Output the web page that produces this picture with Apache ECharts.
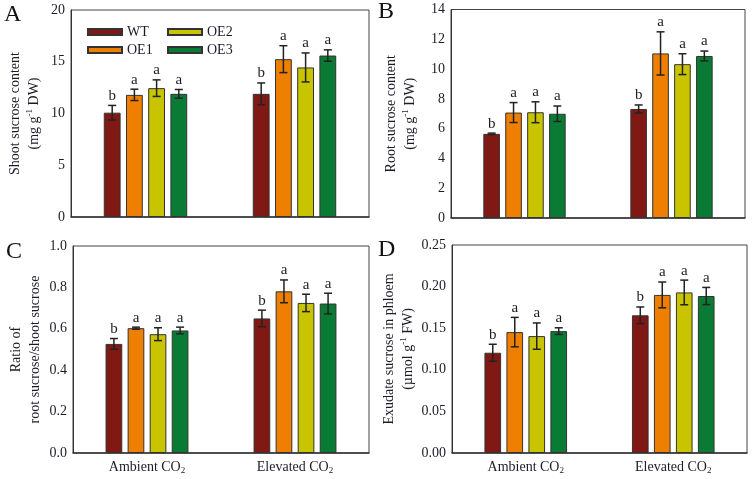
<!DOCTYPE html>
<html>
<head>
<meta charset="utf-8">
<script src="https://cdn.jsdelivr.net/npm/echarts@6/dist/echarts.min.js"></script>
<style>html,body{margin:0;padding:0;background:#fff}#main{width:755px;height:479px}</style>
</head>
<body>
<div id="main"></div>
<script>
// ---------- data ----------
const categories = ['{t|Ambient CO}{sub|2}', '{t|Elevated CO}{sub|2}'];
const seriesNames = ['WT', 'OE1', 'OE2', 'OE3'];
const seriesColors = ['#801914', '#EE7F00', '#C8C400', '#0A7B35'];

// Panel A: shoot sucrose content (mg g-1 DW) — [ambient, elevated] for WT, OE1, OE2, OE3
const shootMeans = [[10.08, 11.9], [11.8, 15.25], [12.45, 14.45], [11.9, 15.6]];
const shootErrs  = [[0.7, 1.05], [0.55, 1.3], [0.8, 1.4], [0.42, 0.55]];
const shootLetters = [['b', 'b'], ['a', 'a'], ['a', 'a'], ['a', 'a']];
const shootTicks = [0, 5, 10, 15, 20];

// Panel B: root sucrose content (mg g-1 DW)
const rootMeans = [[5.65, 7.32], [7.08, 11.05], [7.1, 10.33], [7.0, 10.88]];
const rootErrs  = [[0.05, 0.27], [0.67, 1.45], [0.7, 0.7], [0.52, 0.33]];
const rootLetters = [['b', 'b'], ['a', 'a'], ['a', 'a'], ['a', 'a']];
const rootTicks = [0, 2, 4, 6, 8, 10, 12, 14];

// Panel C: ratio of root sucrose / shoot sucrose
const ratioMeans = [[0.527, 0.65], [0.603, 0.781], [0.574, 0.725], [0.592, 0.722]];
const ratioErrs  = [[0.026, 0.04], [0.005, 0.055], [0.031, 0.042], [0.016, 0.05]];
const ratioLetters = [['b', 'b'], ['a', 'a'], ['a', 'a'], ['a', 'a']];
const ratioTicks = [0, 0.2, 0.4, 0.6, 0.8, 1.0];

// Panel D: exudate sucrose in phloem (µmol g-1 FW)
const exudMeans = [[0.1205, 0.1655], [0.1453, 0.190], [0.1405, 0.193], [0.1465, 0.1887]];
const exudErrs  = [[0.0102, 0.0100], [0.0177, 0.0155], [0.0158, 0.0148], [0.0040, 0.0103]];
const exudLetters = [['b', 'b'], ['a', 'a'], ['a', 'a'], ['a', 'a']];
const exudTicks = [0, 0.05, 0.10, 0.15, 0.20, 0.25];

// ---------- layout ----------
const FONT = '"Liberation Serif", "Times New Roman", serif';
const TXT = '#1c1c28';
const CAT_GAP = 0.44, BAR_GAP = 0.32;

const panels = [
  {means: shootMeans, errs: shootErrs, letters: shootLetters, ticks: shootTicks, dec: 0,
   grid: {left: 71, top: 10, width: 298, height: 207}, gap: 27.5, xlabels: false,
   name: '{t|Shoot sucrose content}\n{t|(mg g}{sup|-1}{t| DW)}'},
  {means: rootMeans, errs: rootErrs, letters: rootLetters, ticks: rootTicks, dec: 0,
   grid: {left: 451, top: 9.5, width: 294, height: 208.5}, gap: 31.5, xlabels: false,
   name: '{t|Root sucrose content}\n{t|(mg g}{sup|-1}{t| DW)}'},
  {means: ratioMeans, errs: ratioErrs, letters: ratioLetters, ticks: ratioTicks, dec: 1,
   grid: {left: 73, top: 246, width: 296, height: 207}, gap: 28.5, xlabels: true,
   name: '{t|Ratio of}\n{t|root sucrose/shoot sucrose}'},
  {means: exudMeans, errs: exudErrs, letters: exudLetters, ticks: exudTicks, dec: 2,
   grid: {left: 452, top: 245, width: 295, height: 208}, gap: 34.5, xlabels: true,
   name: '{t|Exudate sucrose in phloem}\n{t|(\u00b5mol g}{sup|-1}{t| FW)}'}
];

const grids = [], xAxes = [], yAxes = [], series = [];
panels.forEach((p, k) => {
  grids.push(Object.assign({show: true, borderColor: '#444', borderWidth: 1, backgroundColor: 'transparent'}, p.grid));
  xAxes.push({
    type: 'category', gridIndex: k, data: categories,
    axisLine: {lineStyle: {color: '#333', width: 1.5}},
    axisTick: {show: false},
    axisLabel: {show: p.xlabels, interval: 0, color: TXT, fontFamily: FONT, fontSize: 14, margin: 6,
      rich: {
        t: {fontSize: 14, fontFamily: FONT, color: TXT},
        sub: {fontSize: 9, fontFamily: FONT, color: TXT, padding: [7, 0, 0, 0]}
      }}
  });
  const step = p.ticks[1] - p.ticks[0];
  yAxes.push({
    type: 'value', gridIndex: k, min: p.ticks[0], max: p.ticks[p.ticks.length - 1], interval: step,
    axisLine: {show: true, lineStyle: {color: '#333', width: 1}},
    axisTick: {show: false}, splitLine: {show: false},
    axisLabel: {color: TXT, fontFamily: FONT, fontSize: 14, margin: 6,
      formatter: v => v.toFixed(p.dec)},
    name: p.name, nameLocation: 'middle', nameRotate: 90, nameGap: p.gap,
    nameTextStyle: {color: TXT, fontFamily: FONT, fontSize: 14, lineHeight: 19,
      rich: {
        t: {fontSize: 14, fontFamily: FONT, color: TXT, lineHeight: 19},
        sup: {fontSize: 9, fontFamily: FONT, color: TXT, lineHeight: 19, padding: [0, 0, 8, 0]}
      }}
  });
  seriesNames.forEach((nm, i) => {
    series.push({
      type: 'bar', name: nm, xAxisIndex: k, yAxisIndex: k,
      data: p.means[i],
      barCategoryGap: (CAT_GAP * 100) + '%', barGap: (BAR_GAP * 100) + '%',
      itemStyle: {color: seriesColors[i], borderColor: '#333', borderWidth: 1},
      emphasis: {disabled: true}, animation: false
    });
  });
  const errData = [], errLetters = [];
  seriesNames.forEach((nm, i) => {
    p.means[i].forEach((m, j) => {
      errData.push([j, m + p.errs[i][j], m - p.errs[i][j], i]);
      errLetters.push(p.letters[i][j]);
    });
  });
  series.push({
    type: 'custom', xAxisIndex: k, yAxisIndex: k, data: errData, z: 10, animation: false,
    encode: {x: 0, y: [1, 2]},
    renderItem: (params, api) => {
      const cat = api.value(0), hi = api.value(1), lo = api.value(2), si = api.value(3);
      const band = api.size([1, 0])[0];
      const bw = band * (1 - CAT_GAP) / (4 + 3 * BAR_GAP);
      const stepPx = bw * (1 + BAR_GAP);
      const cx = api.coord([cat, 0])[0] + (si - 1.5) * stepPx;
      const yHi = api.coord([cat, hi])[1], yLo = api.coord([cat, lo])[1];
      const ls = {stroke: '#222', lineWidth: 1.5};
      const cw = 4;
      return {type: 'group', children: [
        {type: 'line', shape: {x1: cx, y1: yHi, x2: cx, y2: yLo}, style: ls},
        {type: 'line', shape: {x1: cx - cw, y1: yHi, x2: cx + cw, y2: yHi}, style: ls},
        {type: 'line', shape: {x1: cx - cw, y1: yLo, x2: cx + cw, y2: yLo}, style: ls},
        {type: 'text', x: cx, y: yHi - 2, style: {text: errLetters[params.dataIndex], fill: TXT,
          font: '15px ' + FONT, align: 'center', verticalAlign: 'bottom'}}
      ]};
    }
  });
});

const legendBase = {orient: 'vertical', icon: 'rect', itemWidth: 34, itemHeight: 6, itemGap: 4,
  textStyle: {color: TXT, fontFamily: FONT, fontSize: 14}, selectedMode: false};

const chart = echarts.init(document.getElementById('main'), null, {renderer: 'canvas'});
chart.setOption({
  animation: false,
  backgroundColor: '#fff',
  grid: grids, xAxis: xAxes, yAxis: yAxes, series: series,
  legend: [
    Object.assign({}, legendBase, {data: ['WT', 'OE1'], left: 82, top: 20}),
    Object.assign({}, legendBase, {data: ['OE2', 'OE3'], left: 162, top: 20})
  ],
  graphic: [
    {type: 'text', left: 4, top: 3, style: {text: 'A', font: '24px ' + FONT, fill: '#111'}},
    {type: 'text', left: 378, top: 0, style: {text: 'B', font: '24px ' + FONT, fill: '#111'}},
    {type: 'text', left: 6, top: 240, style: {text: 'C', font: '24px ' + FONT, fill: '#111'}},
    {type: 'text', left: 378, top: 238, style: {text: 'D', font: '24px ' + FONT, fill: '#111'}}
  ]
});
</script>
</body>
</html>
